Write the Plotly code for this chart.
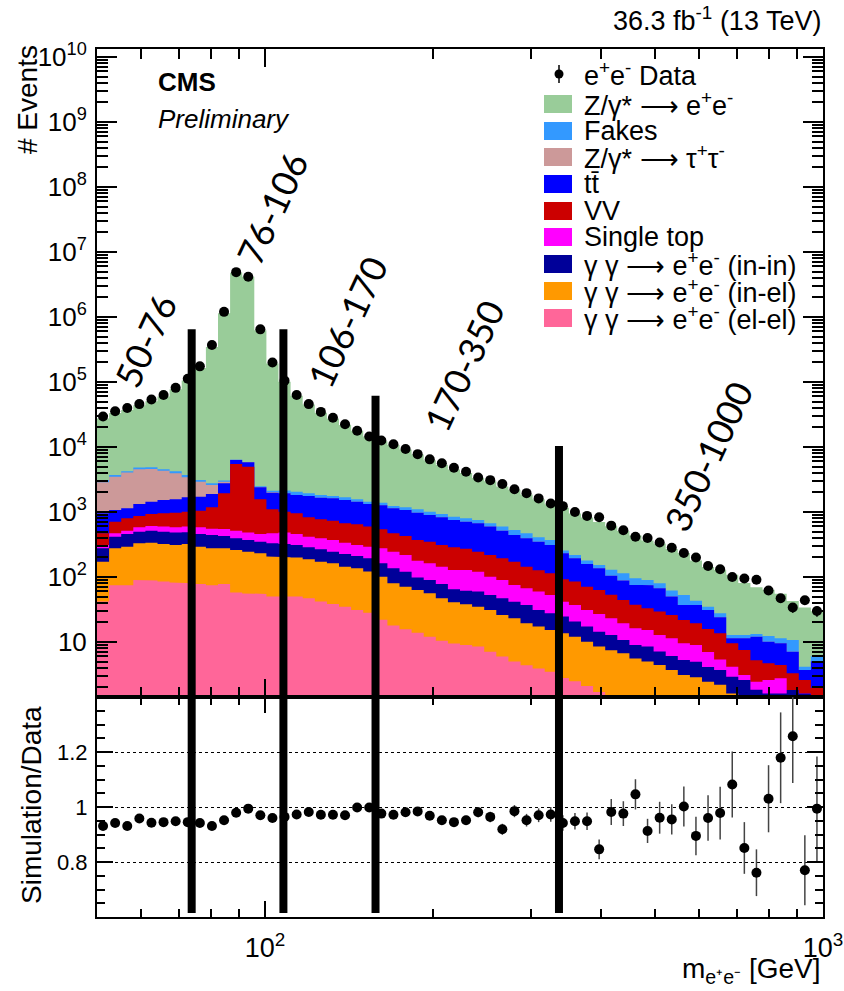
import numpy as np
import plotly.graph_objects as go

# ---------------- data ----------------
x_min, x_max, n_bins = 50.0, 1000.0, 60

data_counts = [29500, 35500, 39800, 45700, 53700, 63100, 81300, 112000, 174000, 372000,
               1200000, 4900000, 4170000, 646000, 200000, 105000, 63100, 45700, 34700, 28200,
               22400, 17800, 14500, 12600, 11000, 9330, 7760, 6460, 5620, 4790,
               4170, 3390, 3090, 2690, 2240, 1950, 1620, 1350, 1230, 1000,
               871, 832, 617, 525, 417, 398, 339, 282, 234, 200,
               148, 132, 100, 95, 91, 62, 47, 34, 44, 30]

ratio_values = [0.931, 0.942, 0.931, 0.958, 0.943, 0.945, 0.948, 0.945, 0.942, 0.931,
                0.952, 0.979, 0.994, 0.970, 0.960, 0.964, 0.973, 0.982, 0.972, 0.972,
                0.970, 0.998, 0.998, 0.976, 0.972, 0.981, 0.984, 0.968, 0.952, 0.945,
                0.952, 0.981, 0.964, 0.919, 0.985, 0.952, 0.970, 0.973, 0.942, 0.948,
                0.948, 0.846, 0.982, 0.976, 1.046, 0.913, 0.961, 0.955, 1.002, 0.895,
                0.960, 0.978, 1.082, 0.851, 0.761, 1.030, 1.179, 1.257, 0.770, 0.994]

ratio_errors = [0.006, 0.005, 0.005, 0.005, 0.004, 0.004, 0.004, 0.003, 0.003, 0.002,
                0.001, 0.001, 0.001, 0.002, 0.003, 0.004, 0.004, 0.005, 0.006, 0.006,
                0.007, 0.008, 0.009, 0.009, 0.010, 0.011, 0.012, 0.013, 0.014, 0.015,
                0.016, 0.018, 0.019, 0.020, 0.022, 0.023, 0.025, 0.027, 0.028, 0.030,
                0.032, 0.036, 0.047, 0.045, 0.055, 0.044, 0.058, 0.055, 0.073, 0.070,
                0.083, 0.096, 0.120, 0.094, 0.085, 0.122, 0.165, 0.170, 0.127, 0.190]

gg_elel = [42, 75, 75, 90, 88, 85, 82, 80, 78, 75,
           78, 58, 56, 55, 50, 50, 50, 47, 42, 38.5,
           35, 31, 28.3, 22, 18, 15.7, 13.9, 12.1, 10.5, 9.5,
           9.0, 8.5, 7.1, 6.0, 5.0, 4.4, 3.9, 3.5, 2.8, 2.5,
           2.1, 1.7, 1.4, 1.3, 1.0, 0.8, 0.63, 0.5, 0.4, 0.3,
           0.24, 0.2, 0.15, 0.12, 0.1, 0.08, 0.06, 0.05, 0.04, 0.03]

gg_inel = [130, 202, 218, 240, 250, 237, 229, 242, 215, 202,
           199, 203, 189, 177, 156, 151, 149, 140, 130, 124,
           109, 105, 93, 79, 62, 55, 49, 44, 36.5, 31.3,
           29.2, 26.5, 24, 20.1, 18.2, 15, 13.4, 11.8, 10.8, 9.6,
           8.0, 6.8, 6.1, 5.4, 4.6, 4.2, 3.8, 3.2, 2.7, 2.56,
           2.2, 2.0, 1.47, 1.32, 1.04, 0.93, 0.95, 1.09, 0.97, 0.87]

gg_inin = [105, 141, 166, 169, 178, 177, 171, 166, 166, 167,
           151, 133, 126, 118, 124, 121, 112, 99, 95, 83,
           82, 75, 73, 61.5, 56, 50, 35.7, 34, 31.2, 24,
           23.5, 24.6, 22, 21, 18.6, 17.8, 13.8, 12.4, 11, 8.5,
           7.2, 5.9, 5.3, 4.05, 3.4, 3.5, 2.7, 2.4, 2.2, 2.13,
           1.7, 1.5, 1.3, 1.17, 0.7, 0.6, 0.61, 0.69, 0.6, 0.38]

single_top = [34, 52, 57, 83, 94, 97, 100, 108, 123, 111,
              120, 122, 111, 109, 140, 160, 148, 132, 127, 126,
              112, 100, 99, 115, 109, 97, 80, 72, 66, 63,
              66, 61, 48, 43, 33.5, 30, 28.5, 25.3, 17.2, 16.6,
              13.8, 12.6, 10.4, 8.65, 7.3, 6.8, 5.7, 5.3, 4.3, 4.0,
              2.9, 1.7, 1.25, 0.5, 0.6, 1.0, 1.16, 0.0, 0.0, 0.1]

diboson = [159, 241, 284, 287, 323, 359, 395, 417, 468, 625,
           1392, 4964, 4508, 1108, 630, 531, 496, 410, 379, 365,
           332, 336, 303, 263, 225, 210, 192, 188, 167, 158,
           145, 124, 117, 104, 97, 77, 68, 61, 50.5, 47.8,
           40, 36, 30, 25, 21, 17.7, 16.6, 14.7, 12.2, 10.4,
           8.8, 8.2, 5.4, 4.4, 2.8, 2.1, 1.65, 1.47, 1.0, 0.6]

ttbar = [485, 364, 340, 461, 510, 575, 590, 670, 670, 712,
         830, 830, 830, 833, 886, 927, 873, 938, 890, 889,
         860, 796, 734, 728, 670, 647, 606, 550, 517, 468,
         438, 425, 378, 322, 272, 250, 222, 197, 140, 109,
         88, 73, 51, 44, 38, 42, 38, 24, 15.4, 17.8,
         15.2, 10.4, 1.85, 3.9, 6.8, 5.4, 5.1, 3.8, 1.1, 3.1]

dy_tautau = [1909, 2425, 2896, 3210, 3149, 2795, 2373, 1737, 1211, 714,
             161, 50, 40, 30, 20, 10, 5, 0, 0, 0,
             0, 0, 0, 0, 0, 0, 0, 0, 0, 0,
             0, 0, 0, 0, 0, 0, 0, 0, 0, 0,
             0, 0, 0, 0, 0, 0, 0, 0, 0, 0,
             0, 0, 0, 0, 0, 0, 0, 0, 0, 0]

fakes = [246, 215, 191, 280, 283, 215, 287, 295, 179, 164,
         109, 50, 40, 60, 120, 200, 223, 174, 165, 141,
         153, 124, 113, 125, 99, 105, 123, 113, 105, 95,
         89, 84, 74, 80, 85, 76, 58, 60, 23, 24,
         20, 17, 24.6, 26, 20, 15, 13, 11.8, 15.8, 6.1,
         3.9, 3.7, 1.4, 1.4, 1.2, 2.3, 1.85, 3.65, 0.47, 0.96]

dy_ee = [24350, 29730, 32820, 38960, 45770, 55090, 72840, 102130, 160790, 343530,
         1139000, 4790600, 4139100, 624100, 189870, 99050, 59340, 42940, 31900, 25640,
         20050, 16190, 13030, 10900, 9450, 7970, 6536, 5240, 4417, 3678,
         3170, 2572, 2309, 1876, 1677, 1386, 1163, 943, 904, 730,
         647, 551, 477, 398, 341, 273, 246, 207, 181.5, 135.7,
         107, 101, 95.2, 68, 56.1, 51.5, 44, 32, 29.7, 23.8]

legend_labels = ["e<sup>+</sup>e<sup>-</sup> Data",
                 "Z/γ* ⟶ e<sup>+</sup>e<sup>-</sup>",
                 "Fakes",
                 "Z/γ* ⟶ τ<sup>+</sup>τ<sup>-</sup>",
                 "tt\u0304",
                 "VV",
                 "Single top",
                 "γ γ ⟶ e<sup>+</sup>e<sup>-</sup> (in-in)",
                 "γ γ ⟶ e<sup>+</sup>e<sup>-</sup> (in-el)",
                 "γ γ ⟶ e<sup>+</sup>e<sup>-</sup> (el-el)"]

region_labels = ["50-76", "76-106", "106-170", "170-350", "350-1000"]
boundary_masses = [73.9, 107.9, 157.8, 336.4]
boundary_tops = [6.5e5, 6.5e5, 6.15e4, 1.04e4]

# ---------------- styles ----------------
FONT = "Liberation Sans, Arial, Helvetica, sans-serif"
stack_series = [gg_elel, gg_inel, gg_inin, single_top, diboson, ttbar, dy_tautau, fakes, dy_ee]
stack_colors = ["#ff6699", "#ff9900", "#000099", "#ff00ff", "#cc0000", "#0000ff",
                "#cc9999", "#3399ff", "#99cc99"]
legend_colors = [None, "#99cc99", "#3399ff", "#cc9999", "#0000ff", "#cc0000",
                 "#ff00ff", "#000099", "#ff9900", "#ff6699"]

# pixel geometry of the plotting frame (page pixels)
L, R, T, B = 97, 823, 49, 917
W, H = 844, 991
split_px = 697
ratio_dom = (B - split_px) / (B - T)


def X(px):
    return (px - L) / (R - L)


def Y(py):
    return (B - py) / (B - T)


edges = np.logspace(np.log10(x_min), np.log10(x_max), n_bins + 1)
centers = np.sqrt(edges[:-1] * edges[1:])

fig = go.Figure()

# stacked histogram as cumulative step polygons (drawn from the top down)
cum = np.cumsum(np.array(stack_series, dtype=float), axis=0)
bottom = 1e-2
xs = np.repeat(edges, 2)
for k in range(len(stack_series) - 1, -1, -1):
    ys = np.concatenate([[bottom], np.repeat(cum[k], 2), [bottom]])
    fig.add_trace(go.Scatter(x=xs, y=ys, mode="lines", fill="toself",
                             fillcolor=stack_colors[k], line=dict(width=0, color=stack_colors[k]),
                             hoverinfo="skip", xaxis="x", yaxis="y"))

data_arr = np.array(data_counts, dtype=float)
fig.add_trace(go.Scatter(x=centers, y=data_arr, mode="markers",
                         marker=dict(color="black", size=10),
                         error_y=dict(type="data", array=np.sqrt(data_arr), color="black",
                                      thickness=1.5, width=0),
                         xaxis="x", yaxis="y"))

fig.add_trace(go.Scatter(x=centers, y=ratio_values, mode="markers",
                         marker=dict(color="black", size=10),
                         error_y=dict(type="data", array=ratio_errors, color="#444444",
                                      thickness=1.5, width=0),
                         xaxis="x2", yaxis="y2"))

# thick boundary lines spanning both panels
for m, top in zip(boundary_masses, boundary_tops):
    fig.add_trace(go.Scatter(x=[m, m], y=[1.0, top], mode="lines",
                             line=dict(color="black", width=8), hoverinfo="skip",
                             xaxis="x", yaxis="y"))
    fig.add_trace(go.Scatter(x=[m, m], y=[0.615, 1.5], mode="lines",
                             line=dict(color="black", width=8), hoverinfo="skip",
                             xaxis="x2", yaxis="y2"))

minor_x = [v * 10 ** d for d in (1, 2) for v in range(2, 10) if x_min < v * 10 ** d < x_max]
major_y = [10.0 ** k for k in range(1, 11)]
major_y_text = ["10"] + ["10<sup>%d</sup>" % k for k in range(2, 11)]
minor_y = [v * 10.0 ** k for k in range(0, 10) for v in range(2, 10)]
minor_r = [round(0.6 + 0.05 * i, 2) for i in range(1, 16)]

common_axis = dict(showline=True, linecolor="black", linewidth=2, mirror="allticks",
                   ticks="inside", tickcolor="black", tickwidth=1.5, zeroline=False,
                   showgrid=False, automargin=False)

fig.update_layout(
    width=W, height=H,
    margin=dict(l=L, r=W - R, t=T, b=H - B, autoexpand=False),
    paper_bgcolor="white", plot_bgcolor="white",
    showlegend=False,
    font=dict(family=FONT, color="black"),
    xaxis=dict(type="log", range=[np.log10(x_min), np.log10(x_max)], domain=[0, 1],
               anchor="y", showticklabels=False, tickvals=[100, 1000], ticklen=18,
               minor=dict(tickvals=minor_x, ticks="inside", ticklen=10, tickwidth=1.5,
                          tickcolor="black"),
               **common_axis),
    yaxis=dict(type="log", range=[0.154, 10.123], domain=[ratio_dom, 1], anchor="x",
               tickvals=major_y, ticktext=major_y_text, ticklen=20,
               tickfont=dict(size=26, family=FONT), ticklabelstandoff=3,
               minor=dict(tickvals=minor_y, ticks="inside", ticklen=11, tickwidth=1.5,
                          tickcolor="black"),
               **common_axis),
    xaxis2=dict(type="log", range=[np.log10(x_min), np.log10(x_max)], domain=[0, 1],
                anchor="y2", matches="x", tickvals=[100, 1000],
                ticktext=["10<sup>2</sup>", "10<sup>3</sup>"], ticklen=16,
                tickfont=dict(size=27, family=FONT), ticklabelstandoff=6,
                minor=dict(tickvals=minor_x, ticks="inside", ticklen=8, tickwidth=1.5,
                           tickcolor="black"),
                **common_axis),
    yaxis2=dict(range=[0.6, 1.4], domain=[0, ratio_dom], anchor="x2",
                tickvals=[0.8, 1.0, 1.2], ticktext=["0.8", "1", "1.2"], ticklen=16,
                tickfont=dict(size=22, family=FONT), ticklabelstandoff=3,
                minor=dict(tickvals=minor_r, ticks="inside", ticklen=8, tickwidth=1.5,
                           tickcolor="black"),
                showline=True, linecolor="black", linewidth=2, mirror="allticks",
                ticks="inside", tickcolor="black", tickwidth=1.5, zeroline=False,
                automargin=False,
                showgrid=True, gridcolor="black", griddash="dot", gridwidth=1),
)

annotations = []
shapes = []

# axis titles and texts
annotations.append(dict(text="# Events", x=X(27), y=Y(100), xref="paper", yref="paper",
                        textangle=-90, showarrow=False, xanchor="center", yanchor="middle",
                        font=dict(size=28, family=FONT)))
annotations.append(dict(text="Simulation/Data", x=X(31), y=Y(805), xref="paper", yref="paper",
                        textangle=-90, showarrow=False, xanchor="center", yanchor="middle",
                        font=dict(size=28, family=FONT)))
annotations.append(dict(text="m<sub>e⁺e⁻</sub> [GeV]", x=X(823), y=Y(970), xref="paper",
                        yref="paper", showarrow=False, xanchor="right", yanchor="middle",
                        font=dict(size=28, family=FONT)))
annotations.append(dict(text="36.3 fb<sup>-1</sup> (13 TeV)", x=X(823), y=Y(19), xref="paper",
                        yref="paper", showarrow=False, xanchor="right", yanchor="middle",
                        font=dict(size=27, family=FONT)))
annotations.append(dict(text="<b>CMS</b>", x=X(156), y=Y(82), xref="paper", yref="paper",
                        showarrow=False, xanchor="left", yanchor="middle",
                        font=dict(size=26, family=FONT)))
annotations.append(dict(text="<i>Preliminary</i>", x=X(156), y=Y(119), xref="paper",
                        yref="paper", showarrow=False, xanchor="left", yanchor="middle",
                        font=dict(size=26, family=FONT)))

# region labels
label_centers = [(145, 341), (272, 208), (347, 322), (464, 365), (708, 456)]
for txt, (cx, cy) in zip(region_labels, label_centers):
    annotations.append(dict(text=txt, x=X(cx), y=Y(cy), xref="paper", yref="paper",
                            textangle=-65, showarrow=False, xanchor="center", yanchor="middle",
                            font=dict(size=36, family="Lato, Open Sans, sans-serif")))

# custom legend
rows = [74, 104, 131, 157, 184, 211, 237, 264, 291, 318]
for i, (lab, col, ry) in enumerate(zip(legend_labels, legend_colors, rows)):
    if col is None:
        shapes.append(dict(type="line", xref="paper", yref="paper", x0=X(559), x1=X(559),
                           y0=Y(ry - 9), y1=Y(ry + 9), line=dict(color="black", width=1.5)))
        shapes.append(dict(type="circle", xref="paper", yref="paper", x0=X(554.5), x1=X(563.5),
                           y0=Y(ry + 4.5), y1=Y(ry - 4.5), fillcolor="black",
                           line=dict(color="black", width=0)))
    else:
        shapes.append(dict(type="rect", xref="paper", yref="paper", x0=X(544), x1=X(572),
                           y0=Y(ry + 9), y1=Y(ry - 9), fillcolor=col, line=dict(width=0)))
    annotations.append(dict(text=lab, x=X(582), y=Y(ry), xref="paper", yref="paper",
                            showarrow=False, xanchor="left", yanchor="middle",
                            font=dict(size=27, family=FONT)))

fig.update_layout(annotations=annotations, shapes=shapes)

# the page body has a default 8px margin; remove it so the figure sits at the page origin
fig.write_html("out.html", config={"displayModeBar": False},
               post_script="document.body.style.margin='0px';document.body.style.overflow='hidden';")
